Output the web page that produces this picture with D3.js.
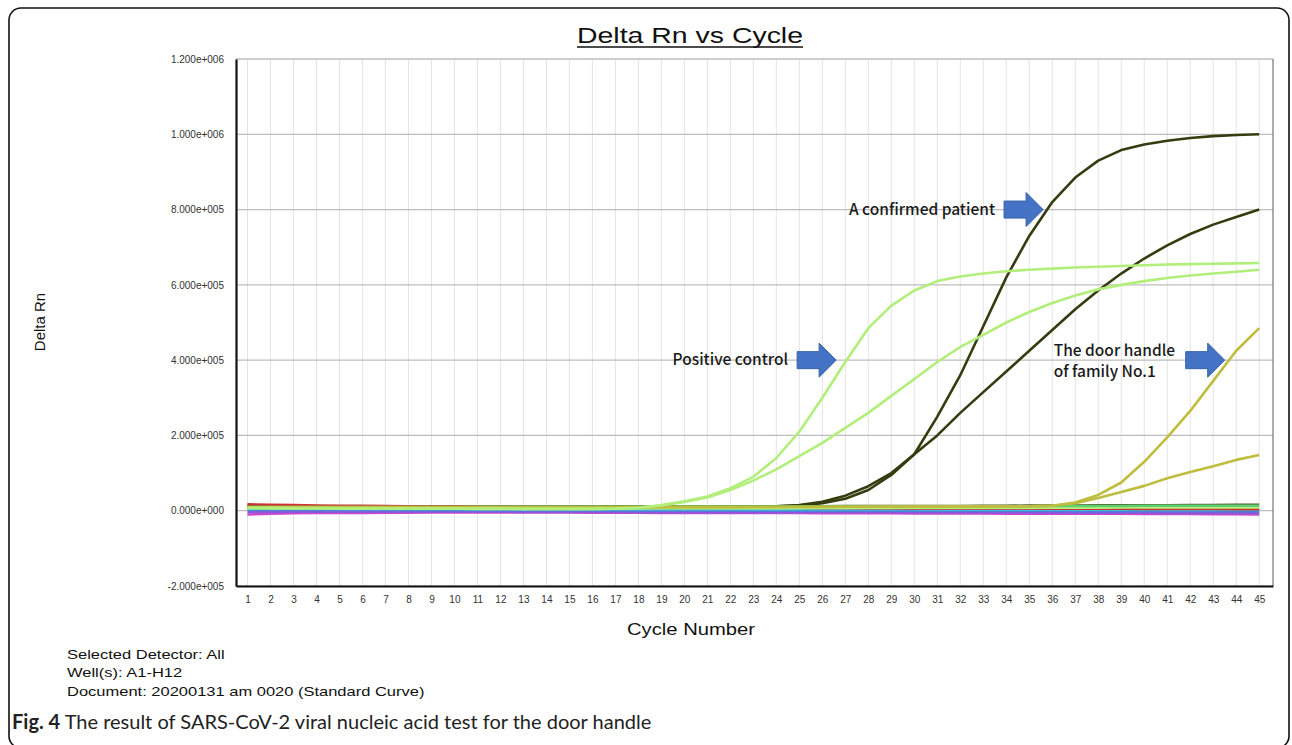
<!DOCTYPE html>
<html>
<head>
<meta charset="utf-8">
<script src="https://cdn.jsdelivr.net/npm/d3@7/dist/d3.min.js"></script>
<style>
  body { margin: 0; background: #fff; }
  svg { display: block; }
</style>
</head>
<body>
<div id="chart"></div>
<script>
// Data
var cycles = [1,2,3,4,5,6,7,8,9,10,11,12,13,14,15,16,17,18,19,20,21,22,23,24,25,26,27,28,29,30,31,32,33,34,35,36,37,38,39,40,41,42,43,44,45];
var yTicks = [-200000, 0, 200000, 400000, 600000, 800000, 1000000, 1200000];
var yTickLabels = ["-2.000e+005","0.000e+000","2.000e+005","4.000e+005","6.000e+005","8.000e+005","1.000e+006","1.200e+006"];

// amplified wells
var confirmedA = [11000,11000,11000,10500,10500,10500,10000,10000,10000,10000,10000,10000,10000,10000,10000,10000,10000,10000,10500,10500,11000,11000,11500,
  12000,15000,24000,40000,65000,100000,150000,250000,360000,490000,620000,730000,820000,885000,930000,958000,973000,983000,990000,995000,998000,1000000];
var confirmedB = [12000,12000,11500,11500,11000,11000,11000,10500,10500,10500,10500,10500,10500,10500,10500,10500,11000,11000,11000,11000,11000,11500,11500,
  11500,13000,20000,32000,55000,95000,150000,200000,260000,315000,370000,425000,480000,535000,585000,630000,670000,705000,735000,760000,780000,800000];
var positiveA = [8000,7500,7000,7000,6500,6500,6000,6000,6000,5500,5500,5500,5000,5000,5000,5000,5500,
  8000,15000,25000,38000,60000,90000,140000,210000,300000,395000,485000,545000,585000,610000,622000,630000,636000,640000,643000,646000,648000,650000,652000,654000,655000,656000,657000,658000];
var positiveB = [7000,7000,6500,6500,6000,6000,6000,5500,5500,5500,5000,5000,5000,5000,5000,5000,5500,
  8000,14000,23000,35000,55000,80000,110000,145000,180000,220000,260000,305000,350000,395000,435000,467000,500000,528000,552000,572000,588000,600000,610000,618000,625000,630000,635000,640000];
var doorA = [10000,10000,10000,10000,9500,9500,9500,9500,9500,9500,9500,9500,9500,9500,9500,9500,9500,9500,10000,10000,10000,10000,10000,10000,10500,10500,10500,10500,11000,11000,11000,11500,11500,12000,12000,
  13000,22000,42000,75000,130000,195000,265000,345000,425000,485000];
var doorB = [9000,9000,9000,9000,9000,9000,9000,9000,9000,9000,9000,9000,9000,9000,9000,9000,9500,9500,9500,9500,9500,9500,10000,10000,10000,10000,10500,10500,10500,11000,11000,11000,11500,11500,12000,
  13000,20000,34000,50000,66000,86000,103000,118000,135000,148000];

// flat (negative) wells
var baseRed = [17000,16000,15000,14000,13500,13000,12500,12000,11500,11000,11000,10500,10500,10000,10000,9500,9500,9000,9000,8500,8500,8000,8000,7500,7500,7000,7000,6500,6500,6000,6000,6000,5500,5500,5500,5000,5000,5000,5000,4500,4500,4500,4500,4000,4000];
var baseMagenta = [-10000,-8000,-7000,-6500,-6000,-6000,-5500,-5500,-5000,-5000,-5000,-5000,-5000,-5000,-5000,-5500,-5500,-5500,-6000,-6000,-6000,-6000,-6500,-6500,-6500,-7000,-7000,-7000,-7000,-7500,-7500,-7500,-7500,-8000,-8000,-8000,-8500,-8500,-8500,-9000,-9000,-9000,-9500,-9500,-10000];
var basePurple = [-4000,-3500,-3000,-3000,-3000,-3000,-3000,-3000,-3000,-3000,-3000,-3000,-3500,-3500,-3500,-3500,-3500,-4000,-4000,-4000,-4000,-4000,-4000,-4000,-4500,-4500,-4500,-4500,-4500,-5000,-5000,-5000,-5000,-5000,-5000,-5500,-5500,-5500,-5500,-5500,-6000,-6000,-6000,-6000,-6000];
var baseBlue = [2000,2000,1500,1500,1500,1500,1500,1000,1000,1000,1000,1000,1000,1000,1000,500,500,500,500,500,500,500,0,0,0,0,0,0,0,-500,-500,-500,-500,-500,-500,-500,-1000,-1000,-1000,-1000,-1000,-1000,-1000,-1500,-1500];
var baseCyan = [5000,5000,5000,5000,4500,4500,4500,4500,4500,4500,4000,4000,4000,4000,4000,4000,4000,4000,4000,4000,3500,3500,3500,3500,3500,3500,3500,3500,3500,3500,3000,3000,3000,3000,3000,3000,3000,3000,3000,3000,2500,2500,2500,2500,2500];
var baseYellow = [9000,8500,8500,8000,8000,8000,8000,7500,7500,7500,7500,7500,7500,7500,7000,7000,7000,7000,7000,7000,7000,7000,7000,7000,7000,7000,7000,7000,7000,7000,7000,7000,7000,7000,7000,7000,7000,7000,7000,7000,7000,7000,7000,7000,7000];
var baseLime = [7000,7000,6500,6500,6500,6500,6500,6500,6500,6500,6500,6500,6500,6500,6500,6500,6500,6500,7000,7000,7000,7000,7000,7000,7500,7500,7500,7500,7500,7500,8000,8000,8000,8000,8000,8000,8000,8000,8500,8500,8500,8500,8500,8500,8500];
var baseGreen = [10000,10000,10000,10000,10000,10000,10000,10000,10000,10000,10500,10500,10500,10500,10500,10500,10500,10500,11000,11000,11000,11000,11000,11000,11500,11500,11500,11500,11500,11500,12000,12000,12000,12000,12000,12500,12500,12500,12500,13000,13000,13000,13000,13000,13000];
var baseDark = [13000,13000,12500,12500,12500,12000,12000,12000,12000,12000,12000,12000,12000,12000,12000,12000,12000,12000,12500,12500,12500,12500,13000,13000,13000,13000,13500,13500,13500,14000,14000,14000,14500,14500,15000,15000,15000,15500,15500,16000,16000,16500,16500,17000,17000];

var svgWidth = 1292;
var svgHeight = 745;

var margin = { top: 59, right: 19, bottom: 159, left: 236 };
var width = svgWidth - margin.left - margin.right;
var height = svgHeight - margin.top - margin.bottom;

var svg = d3.select("#chart").append("svg")
  .attr("width", svgWidth)
  .attr("height", svgHeight);

// outer frame
svg.append("rect")
  .attr("x", 9).attr("y", 8)
  .attr("width", 1280).attr("height", 740)
  .attr("rx", 12)
  .attr("fill", "none")
  .attr("stroke", "#111")
  .attr("stroke-width", 1.6);

var chartGroup = svg.append("g")
  .attr("transform", `translate(${margin.left}, ${margin.top})`);

var x = d3.scaleLinear().domain([0.5, 45.6]).range([0, width]);
var y = d3.scaleLinear().domain([-200000, 1200000]).range([height, 0]);

// vertical grid, one per cycle
chartGroup.append("g")
  .selectAll("line")
  .data(cycles)
  .enter().append("line")
  .attr("x1", d => x(d)).attr("x2", d => x(d))
  .attr("y1", 0).attr("y2", height)
  .attr("stroke", "#e4e4e4")
  .attr("stroke-width", 1);

// horizontal grid
chartGroup.append("g")
  .selectAll("line")
  .data(yTicks)
  .enter().append("line")
  .attr("x1", 0).attr("x2", width)
  .attr("y1", d => y(d)).attr("y2", d => y(d))
  .attr("stroke", "#bdbdbd")
  .attr("stroke-width", 1.3);

// right frame edge
chartGroup.append("line")
  .attr("x1", width).attr("x2", width)
  .attr("y1", 0).attr("y2", height)
  .attr("stroke", "#777").attr("stroke-width", 1.2);

// axes
var leftAxis = d3.axisLeft(y)
  .tickValues(yTicks)
  .tickSize(0)
  .tickPadding(12)
  .tickFormat((d, i) => yTickLabels[i]);

var bottomAxis = d3.axisBottom(x)
  .tickValues(cycles)
  .tickSize(0)
  .tickPadding(10)
  .tickFormat(d3.format("d"));

var yAxisG = chartGroup.append("g").call(leftAxis);
var xAxisG = chartGroup.append("g")
  .attr("transform", `translate(0, ${height})`)
  .call(bottomAxis);

[yAxisG, xAxisG].forEach(function(g) {
  g.select(".domain").attr("stroke", "#111").attr("stroke-width", 2.2);
  g.selectAll("text")
    .attr("fill", "#333")
    .style("font-family", "'Liberation Sans', Arial, sans-serif")
    .style("font-size", "10px");
});

// curves
var line = d3.line()
  .x((d, i) => x(cycles[i]))
  .y(d => y(d));

// drawing order: dark wells under the flat bundle, light ones above it
var series = [
  { values: baseDark, color: "#4e5a2c", w: 1.6 },
  { values: confirmedB, color: "#343c10", w: 2.6 },
  { values: confirmedA, color: "#343c10", w: 2.6 },
  { values: baseMagenta, color: "#d044d0", w: 2.4 },
  { values: basePurple, color: "#8a58d8", w: 2.4 },
  { values: baseBlue, color: "#4c7fd6", w: 2.4 },
  { values: baseCyan, color: "#3fc8e2", w: 2.4 },
  { values: baseYellow, color: "#e4e040", w: 2.4 },
  { values: baseRed, color: "#cc3030", w: 2.4 },
  { values: baseLime, color: "#b6f07e", w: 2.4 },
  { values: baseGreen, color: "#5fcf70", w: 2.4 },
  { values: doorB, color: "#bfbd3e", w: 2.6 },
  { values: doorA, color: "#bfbd3e", w: 2.6 },
  { values: positiveB, color: "#b2ee7a", w: 2.6 },
  { values: positiveA, color: "#b2ee7a", w: 2.6 }
];

chartGroup.append("g")
  .selectAll("path")
  .data(series)
  .enter().append("path")
  .attr("d", d => line(d.values))
  .attr("fill", "none")
  .attr("stroke", d => d.color)
  .attr("stroke-width", d => d.w)
  .attr("stroke-linejoin", "round");

// annotations: block arrows pointing at curves
var notes = [
  { lines: ["A confirmed patient"], tipCycle: 35.6, tipValue: 800000, anchor: "end", dx: -48, dy: 5 },
  { lines: ["Positive control"], tipCycle: 26.6, tipValue: 400000, anchor: "end", dx: -48, dy: 5 },
  { lines: ["The door handle", "of family No.1"], tipCycle: 43.5, tipValue: 400000, anchor: "start", dx: -171, dy: -4 }
];

var arrowShape = "M0,0 L-17,-17 L-17,-8.5 L-39,-8.5 L-39,8.5 L-17,8.5 L-17,17 Z";

notes.forEach(function(n) {
  var tx = x(n.tipCycle), ty = y(n.tipValue);
  chartGroup.append("path")
    .attr("d", arrowShape)
    .attr("transform", `translate(${tx}, ${ty})`)
    .attr("fill", "#4472c4")
    .attr("stroke", "#3560a8")
    .attr("stroke-width", 1);
  var t = chartGroup.append("text")
    .attr("x", tx + n.dx)
    .attr("y", ty + n.dy)
    .attr("text-anchor", n.anchor)
    .attr("fill", "#1a1a1a")
    .style("font-family", "'Noto Sans CJK SC', 'Noto Sans', sans-serif")
    .style("font-weight", 500)
    .style("font-size", "15.5px");
  n.lines.forEach(function(s, i) {
    t.append("tspan").attr("x", tx + n.dx).attr("dy", i ? 21 : 0).text(s);
  });
});

// title (the source is stretched sideways, so fit the width)
var title = svg.append("text")
  .attr("x", 577).attr("y", 43)
  .attr("fill", "#111")
  .attr("textLength", 226)
  .attr("lengthAdjust", "spacingAndGlyphs")
  .style("font-family", "'Liberation Sans', Arial, sans-serif")
  .style("font-size", "22px")
  .text("Delta Rn vs Cycle");
svg.append("line")
  .attr("x1", 577).attr("x2", 803)
  .attr("y1", 47).attr("y2", 47)
  .attr("stroke", "#111").attr("stroke-width", 1.6);

// axis titles
svg.append("text")
  .attr("transform", "translate(45, 322) rotate(-90)")
  .attr("text-anchor", "middle")
  .attr("fill", "#111")
  .style("font-family", "'Liberation Sans', Arial, sans-serif")
  .style("font-size", "15px")
  .text("Delta Rn");

svg.append("text")
  .attr("x", 627).attr("y", 635)
  .attr("fill", "#111")
  .attr("textLength", 128)
  .attr("lengthAdjust", "spacingAndGlyphs")
  .style("font-family", "'Liberation Sans', Arial, sans-serif")
  .style("font-size", "17px")
  .text("Cycle Number");

// run info
var info = ["Selected Detector: All", "Well(s): A1-H12", "Document: 20200131 am 0020 (Standard Curve)"];
svg.append("g")
  .attr("transform", "translate(67, 0) scale(1.32, 1)")
  .selectAll("text")
  .data(info)
  .enter().append("text")
  .attr("x", 0)
  .attr("y", (d, i) => 659 + i * 18.5)
  .attr("fill", "#111")
  .style("font-family", "'Liberation Sans', Arial, sans-serif")
  .style("font-size", "12.5px")
  .text(d => d);

// caption
var cap = svg.append("text")
  .attr("x", 12).attr("y", 729)
  .attr("fill", "#222")
  .style("font-family", "Lato, 'Noto Sans', sans-serif")
  .style("font-size", "20px");
cap.append("tspan").style("font-weight", 700).text("Fig. 4");
cap.append("tspan").text(" The result of SARS-CoV-2 viral nucleic acid test for the door handle");
</script>
</body>
</html>
